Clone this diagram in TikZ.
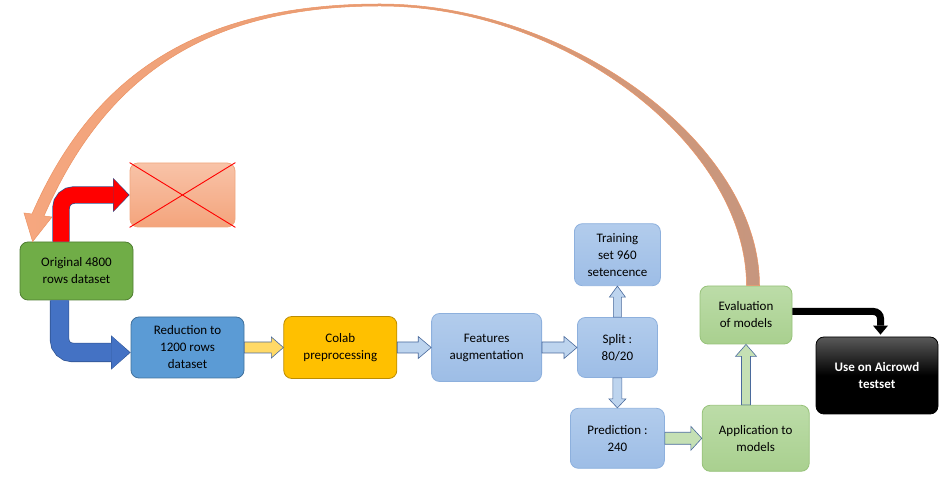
\documentclass[tikz,border=0pt]{standalone}
\usepackage{fontspec}
\setmainfont{Carlito}
\usepackage{xcolor}
\usetikzlibrary{arrows.meta,positioning,calc}

\definecolor{origfill}{HTML}{70AD47}
\definecolor{origedge}{HTML}{507E32}
\definecolor{redufill}{HTML}{5B9BD5}
\definecolor{reduedge}{HTML}{41719C}
\definecolor{colabfill}{HTML}{FFC000}
\definecolor{colabedge}{HTML}{BC8C00}
\definecolor{lbtop}{HTML}{B2CCEC}
\definecolor{lbbot}{HTML}{9DBDE6}
\definecolor{lbedge}{HTML}{8DB0DD}
\definecolor{lgtop}{HTML}{BCDCA8}
\definecolor{lgbot}{HTML}{A9D08F}
\definecolor{lgedge}{HTML}{97C27A}
\definecolor{xtop}{HTML}{F8C3A8}
\definecolor{xbot}{HTML}{F4A47C}
\definecolor{xedge}{HTML}{F0A77F}
\definecolor{arcleft}{HTML}{F6A77F}
\definecolor{arcmid}{HTML}{E69B72}
\definecolor{arcright}{HTML}{C6967E}
\definecolor{arcedge}{HTML}{EC9363}
\definecolor{blkedge}{HTML}{4A6A9C}
\definecolor{navyedge}{HTML}{2F528F}
\definecolor{yelarrow}{HTML}{FFD966}
\definecolor{bluearrow}{HTML}{BDD4EE}
\definecolor{greenarrow}{HTML}{C5E0B4}
\definecolor{bentblue}{HTML}{4472C4}

\begin{document}
\begin{tikzpicture}[
  x=1pt, y=1pt,
  node distance=30pt,
  box/.style={draw, rounded corners=8pt, align=center, inner sep=2pt, line width=0.8pt,
    font=\fontsize{13}{17}\selectfont},
  lightblue/.style={box, draw=lbedge, top color=lbtop, bottom color=lbbot},
  lightgreen/.style={box, draw=lgedge, top color=lgtop, bottom color=lgbot},
  blk/.style n args={3}{draw=blkedge, line width=0.6pt, to path={
      ($(\tikztotarget)!#3!(\tikztostart)$) coordinate (bh)
      ($(\tikztostart)!#1!90:(\tikztotarget)$) -- ($(bh)!#1!90:(\tikztotarget)$)
      -- ($(bh)!#2!90:(\tikztotarget)$) -- (\tikztotarget)
      -- ($(bh)!#2!-90:(\tikztotarget)$) -- ($(bh)!#1!-90:(\tikztotarget)$)
      -- ($(\tikztostart)!#1!-90:(\tikztotarget)$) -- cycle}},
  bent/.style={rounded corners=13pt},
]
  \useasboundingbox (0,0) rectangle (945,487);

  \node[box, draw=origedge, fill=origfill, minimum width=113pt, minimum height=58pt] (orig) at (76.5,216) {Original 4800\\rows dataset};
  \node[box, draw=xedge, top color=xtop, bottom color=xbot, minimum width=105pt, minimum height=64pt] (crossed) at (182.5,292) {};
  \node[box, draw=reduedge, fill=redufill, minimum width=113pt, minimum height=61pt] (reduc) at (187.5,139.5) {Reduction to\\1200 rows\\dataset};
  \node[box, draw=colabedge, fill=colabfill, minimum width=113pt, minimum height=62pt, right=39pt of reduc] (colab) {Colab\\preprocessing};
  \node[lightblue, minimum width=110pt, minimum height=68pt, right=34pt of colab] (feat) {Features\\augmentation};
  \node[lightblue, minimum width=80pt, minimum height=60pt, right=35pt of feat] (split) {Split :\\80/20};
  \node[lightblue, minimum width=86pt, minimum height=62pt, above=31pt of split] (train) {Training\\set 960\\setencence};
  \node[lightblue, minimum width=94pt, minimum height=60pt, below=30pt of split] (pred) {Prediction :\\240};
  \node[lightgreen, minimum width=107pt, minimum height=66pt, right=37pt of pred] (appl) {Application to\\models};
  \node[lightgreen, minimum width=92pt, minimum height=58pt] (eval) at (746,172) {Evaluation\\of models};
  \node[box, draw=black, top color=black!65, bottom color=black, middle color=black, text=white,
    font=\fontsize{13}{17}\selectfont\bfseries, minimum width=122pt, minimum height=77pt] (aicrowd) at (877,111.5) {Use on Aicrowd\\testset};

  % crossed out branch
  \draw[red, line width=0.9pt] (crossed.north west) -- (crossed.south east)
    (crossed.south west) -- (crossed.north east);

  % feedback arc
  \path[draw=arcedge, line width=0.5pt, left color=arcleft, right color=arcright, middle color=arcmid]
    ($(eval.north)+(13.5,0)$) .. controls (759.5,344) and (568,483) .. (380,483)
    .. controls (198,483) and (92.5,412) .. (32,273) -- (24,274)
    -- ($(orig.north west)+(13,0)$) -- (52,270) -- (44,271)
    .. controls (103.5,407) and (202,481) .. (380,481)
    .. controls (568,481) and (746.5,340) .. ($(eval.north)+(0.5,0)$) -- cycle;

  % bent arrows
  \draw[bent, draw=navyedge, line width=17.4pt, -{Triangle[length=16.6pt, width=34.4pt, line width=0pt]}]
    ($(orig.north)+(-15.5,0)$) |- (crossed.west);
  \draw[bent, draw=red, line width=16pt, -{Triangle[length=15pt, width=32pt, line width=0pt]}, shorten >=1pt]
    ($(orig.north)+(-15.5,0)$) |- (crossed.west);
  \draw[bent, draw=navyedge, line width=19.4pt, -{Triangle[length=19.6pt, width=34.4pt, line width=0pt]}]
    ($(orig.south)+(-17,0)$) |- ($(reduc.west)+(0,-5)$);
  \draw[bent, draw=bentblue, line width=18pt, -{Triangle[length=18pt, width=33pt, line width=0pt]}, shorten >=1pt]
    ($(orig.south)+(-17,0)$) |- ($(reduc.west)+(0,-5)$);
  \draw[bent, rounded corners=7pt, draw=black, line width=7pt, -{Triangle[length=9pt, width=15pt, line width=0pt]}]
    ($(eval.east)+(0,3.5)$) -| ($(aicrowd.north)+(3.5,2)$);

  % block arrows
  \draw[blk={5.5pt}{10.5pt}{12pt}, fill=yelarrow] (reduc.east) to (colab.west);
  \draw[blk={5.5pt}{11pt}{13pt}, fill=bluearrow] (colab.east) to (feat.west);
  \draw[blk={5.5pt}{11pt}{13pt}, fill=bluearrow] (feat.east) to (split.west);
  \draw[blk={4pt}{8pt}{11pt}, fill=bluearrow] (split.north) to (train.south);
  \draw[blk={4.5pt}{8.5pt}{9pt}, fill=bluearrow] (split.south) to (pred.north);
  \draw[blk={6pt}{12pt}{11pt}, fill=greenarrow] (pred.east) to (appl.west);
  \draw[blk={4.5pt}{10.5pt}{12pt}, fill=greenarrow] (eval.south |- appl.north) to (eval.south);
\end{tikzpicture}
\end{document}
